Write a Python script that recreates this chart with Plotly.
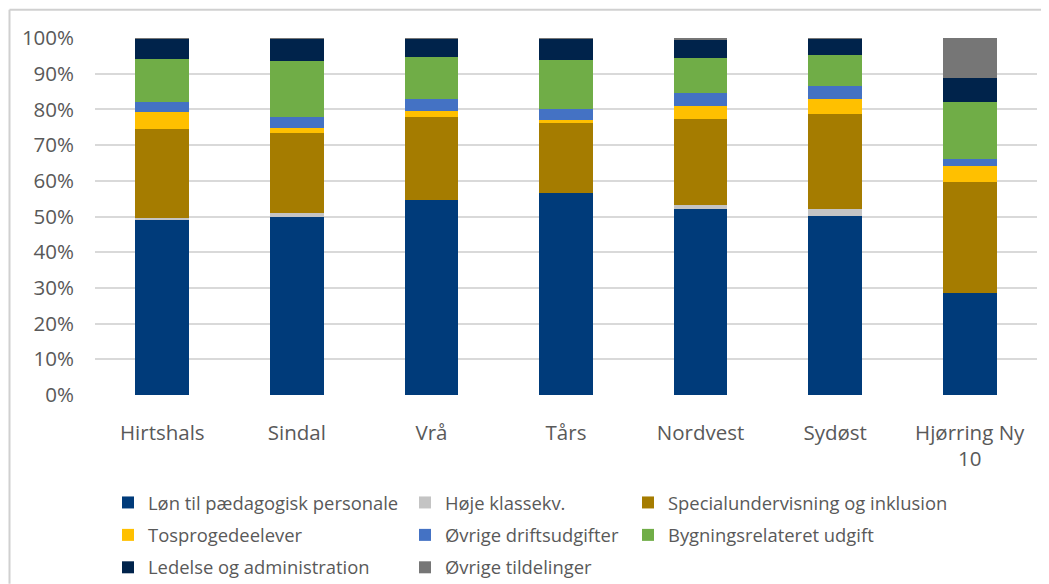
import plotly.graph_objects as go

categories = ["Hirtshals", "Sindal", "Vrå", "Tårs", "Nordvest", "Sydøst", "Hjørring Ny<br>10"]

series_names = [
    "Løn til pædagogisk personale",
    "Høje klassekv.",
    "Specialundervisning og inklusion",
    "Tosprogedeelever",
    "Øvrige driftsudgifter",
    "Bygningsrelateret udgift",
    "Ledelse og administration",
    "Øvrige tildelinger",
]

lon = [49.2, 49.9, 54.7, 56.7, 52.2, 50.2, 28.7]
hoje = [0.3, 1.0, 0.0, 0.0, 0.9, 2.0, 0.0]
special = [25.1, 22.6, 23.2, 19.6, 24.3, 26.6, 31.1]
tosprog = [4.8, 1.4, 1.7, 0.6, 3.6, 4.1, 4.4]
drift = [2.8, 3.0, 3.4, 3.3, 3.7, 3.7, 2.0]
bygning = [12.0, 15.7, 11.8, 13.7, 9.8, 8.6, 16.0]
ledelse = [5.6, 6.2, 5.0, 5.9, 5.0, 4.6, 6.7]
ovrige_t = [0.2, 0.2, 0.2, 0.2, 0.5, 0.2, 11.1]

series_values = [lon, hoje, special, tosprog, drift, bygning, ledelse, ovrige_t]
colors = ["#003B7A", "#C4C4C4", "#A57C00", "#FFC000", "#4472C4", "#70AD47", "#00234B", "#767676"]
legend_ids = ["legend", "legend2", "legend3", "legend", "legend2", "legend3", "legend", "legend2"]

y_ticks = [0, 10, 20, 30, 40, 50, 60, 70, 80, 90, 100]
y_tick_labels = [f"{v}%" for v in y_ticks]

FONT = "Open Sans"
TXT = "#595959"

fig = go.Figure()
for i, (name, vals, col, lg) in enumerate(zip(series_names, series_values, colors, legend_ids)):
    fig.add_trace(go.Bar(
        x=categories, y=vals, name=name, marker=dict(color=col, line=dict(width=0)),
        legend=lg, legendgroup=f"g{i}",
    ))

# page body has an 8px margin, so figure coordinates are window coordinates minus 8
W, H = 1041, 576
L, R, T, B = 87, 1029, 30.3, 387.3

legend_common = dict(
    orientation="v", xref="container", yref="container", xanchor="left", yanchor="top",
    font=dict(family=FONT, size=18.4, color=TXT), traceorder="grouped",
    tracegroupgap=5.5, bgcolor="rgba(0,0,0,0)", itemclick=False,
)
LEG_TOP = 476


def px_x(p):
    return (p - L) / (R - L)


def px_y(p):
    return (B - p) / (B - T)


border = dict(color="#D0D0D0", width=2)
fig.add_shape(type="line", xref="paper", yref="paper",
              x0=px_x(1.5), x1=px_x(1.5), y0=px_y(2), y1=px_y(H), line=border)
fig.add_shape(type="line", xref="paper", yref="paper",
              x0=px_x(1.5), x1=px_x(W), y0=px_y(2), y1=px_y(2), line=border)

fig.update_layout(
    width=W, height=H,
    paper_bgcolor="white", plot_bgcolor="white",
    margin=dict(l=L, r=W - R, t=T, b=H - B, autoexpand=False),
    barmode="stack", bargap=0.6,
    font=dict(family=FONT, color=TXT),
    xaxis=dict(showgrid=False, showline=False, zeroline=False, ticks="",
               tickfont=dict(family=FONT, size=20.5, color=TXT), ticklabelstandoff=23),
    yaxis=dict(range=[0, 100], tickvals=y_ticks, ticktext=y_tick_labels,
               showgrid=True, gridcolor="#D9D9D9", gridwidth=2,
               zeroline=False, showline=False, ticks="",
               tickfont=dict(family=FONT, size=20.5, color=TXT), ticklabelstandoff=20),
    legend=dict(x=100 / W, y=1 - LEG_TOP / H, **legend_common),
    legend2=dict(x=397 / W, y=1 - LEG_TOP / H, **legend_common),
    legend3=dict(x=620 / W, y=1 - LEG_TOP / H, **legend_common),
)

fig.write_html("out.html")
